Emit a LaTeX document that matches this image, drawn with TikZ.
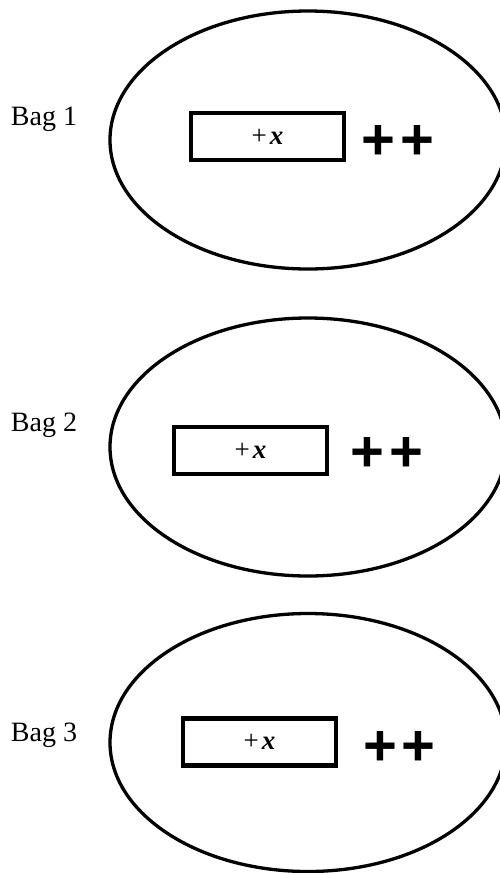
\documentclass[tikz,border=0pt]{standalone}
\usepackage{fontspec}
\setmainfont{Liberation Serif}
\newfontfamily\plusfont{Liberation Sans}
\usetikzlibrary{shapes.geometric}
\tikzset{
  bag/.style={draw, ellipse, line width=3.3pt, minimum width=396pt, minimum height=258pt, inner sep=0pt},
  card/.style={draw, rectangle, line width=4.5pt, minimum width=153pt, minimum height=47pt, inner sep=0pt,
    font=\fontsize{27}{30}\selectfont},
  baglabel/.style={anchor=base, inner sep=0pt, font=\fontsize{28}{32}\selectfont},
  pluses/.style={anchor=base, inner sep=0pt, font=\plusfont\bfseries\fontsize{58}{62}\selectfont}
}
\newcommand{\cardtext}{+\kern3pt{\bfseries\itshape x}}
\newcommand{\plustext}{+\kern5pt+}
\begin{document}
\begin{tikzpicture}[x=1pt,y=-1pt]
\useasboundingbox (0,0) rectangle (500,873);
\clip (0,0) rectangle (500,873);
\fill[white] (0,0) rectangle (500,873);
% Bag 1
\node[bag] (bag1) at (308,140) {};
\node[baglabel] (lab1) at (44,125) {Bag 1};
\node[card] (card1) at (267.5,136.5) {\cardtext};
\node[pluses] (plus1) at (398,159) {\plustext};
% Bag 2
\node[bag] (bag2) at (308,447) {};
\node[baglabel] (lab2) at (44,431) {Bag 2};
\node[card] (card2) at (250.5,450.5) {\cardtext};
\node[pluses] (plus2) at (387,471) {\plustext};
% Bag 3
\node[bag] (bag3) at (308,742.5) {};
\node[baglabel] (lab3) at (44,741) {Bag 3};
\node[card] (card3) at (259.5,742) {\cardtext};
\node[pluses] (plus3) at (399.5,765) {\plustext};
\end{tikzpicture}
\end{document}
